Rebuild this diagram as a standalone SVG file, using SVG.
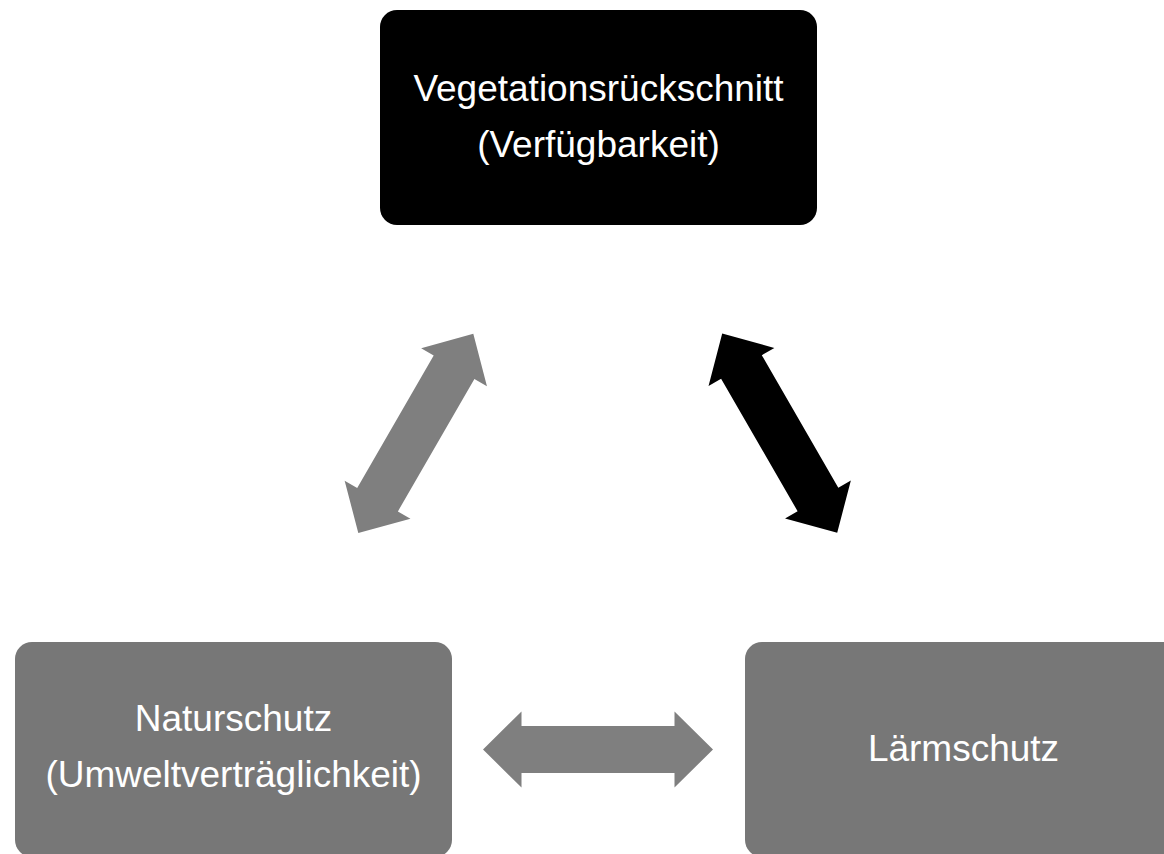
<svg xmlns="http://www.w3.org/2000/svg" width="1164" height="854" viewBox="0 0 1164 854">
  <defs>
    <style>
      .lbl { font-family: "Liberation Sans", Arial, sans-serif; font-size: 37px; fill: #ffffff; text-anchor: middle; }
      .grey { fill: #777777; }
      .dark { fill: #000000; }
      .arrGrey { fill: #7f7f7f; }
      .arrDark { fill: #000000; }
    </style>
    <polygon id="dblArrow" points="-115,0 -76.5,-38 -76.5,-23.5 76.5,-23.5 76.5,-38 115,0 76.5,38 76.5,23.5 -76.5,23.5 -76.5,38"/>
  </defs>
  <rect width="1164" height="854" fill="#ffffff"/>
  <g id="connectors">
    <use href="#dblArrow" class="arrGrey" transform="translate(415.8,433.4) rotate(-60)"/>
    <use href="#dblArrow" class="arrDark" transform="translate(779.7,433.2) rotate(60)"/>
    <use href="#dblArrow" class="arrGrey" transform="translate(598,749.5)"/>
  </g>
  <g id="node-vegetation">
    <rect class="dark" x="380" y="10" width="437" height="215" rx="17"/>
    <text class="lbl" x="598.5" y="101">Vegetationsrückschnitt</text>
    <text class="lbl" x="598.5" y="157">(Verfügbarkeit)</text>
  </g>
  <g id="node-naturschutz">
    <rect class="grey" x="15" y="642" width="437" height="215" rx="17"/>
    <text class="lbl" x="233.5" y="731">Naturschutz</text>
    <text class="lbl" x="233.5" y="787">(Umweltverträglichkeit)</text>
  </g>
  <g id="node-laermschutz">
    <rect class="grey" x="745" y="642" width="437" height="215" rx="17"/>
    <text class="lbl" x="963.5" y="761">Lärmschutz</text>
  </g>
</svg>
